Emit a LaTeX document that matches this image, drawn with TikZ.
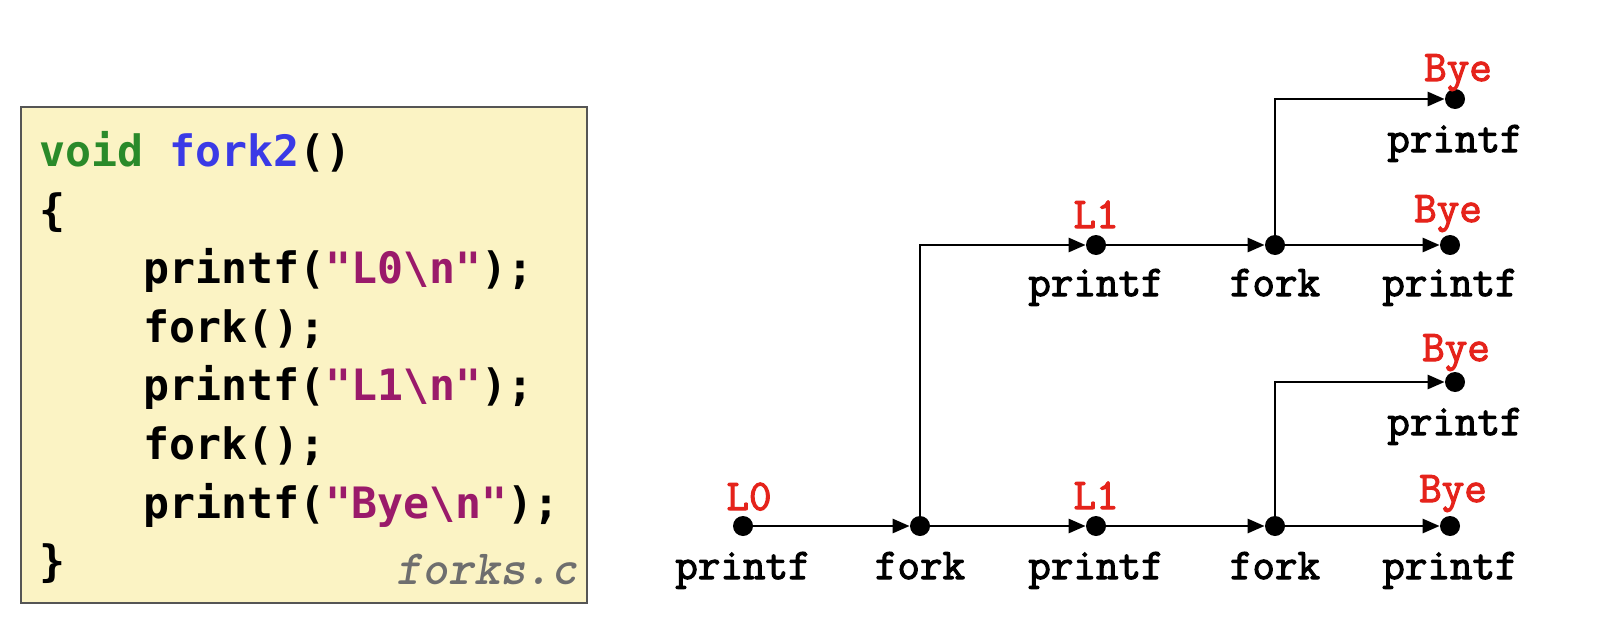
\documentclass[tikz,border=0pt]{standalone}
\usepackage{fontspec}
\newfontfamily\codefont{DejaVu Sans Mono}
\newfontfamily\labfont{Latin Modern Mono}[FakeBold=2.5]
\usetikzlibrary{arrows.meta,calc}
\definecolor{boxfill}{HTML}{FBF3C4}
\definecolor{boxdraw}{HTML}{555555}
\definecolor{kwgreen}{HTML}{2A8A2A}
\definecolor{fnblue}{HTML}{3A3AE6}
\definecolor{strpurple}{HTML}{9A1A6A}
\definecolor{fgray}{HTML}{6E6E6E}
\definecolor{lblred}{HTML}{E5231B}
\tikzset{
  code/.style={font=\codefont\bfseries\fontsize{21.6}{24}\selectfont, anchor=base west, inner sep=0},
  dot/.style={circle, fill=black, inner sep=0, minimum size=10pt},
  flow/.style={line width=1.4pt, -{Triangle[length=8.5pt,width=7pt]}},
  lab/.style={font=\labfont\fontsize{21.9}{24}\selectfont, anchor=base, inner sep=0},
  redlab/.style={lab, text=lblred}
}
\begin{document}
\begin{tikzpicture}[x=0.5pt,y=-0.5pt]
\useasboundingbox (0,0) rectangle (1599,642);
% code box
\node[draw=boxdraw, fill=boxfill, line width=1.2pt, minimum width=283pt, minimum height=248pt, anchor=north west, inner sep=0] (box) at (20,106) {};
\node[code] (c1) at (39,166) {\textcolor{kwgreen}{void} \textcolor{fnblue}{fork2}()};
\node[code] (c2) at (39,225) {\{};
\node[code] (c3) at (143,283) {printf(\textcolor{strpurple}{"L0\textbackslash n"});};
\node[code] (c4) at (143,342) {fork();};
\node[code] (c5) at (143,400) {printf(\textcolor{strpurple}{"L1\textbackslash n"});};
\node[code] (c6) at (143,459) {fork();};
\node[code] (c7) at (143,518) {printf(\textcolor{strpurple}{"Bye\textbackslash n"});};
\node[code] (c8) at (39,576) {\}};
\node[font=\ttfamily\bfseries\itshape\fontsize{24.6}{27}\selectfont, text=fgray, anchor=base east, inner sep=0] (fn) at (578,584) {forks.c};
% dots
\node[dot] (a) at (743,526) {};
\node[dot] (f1) at (920,526) {};
\node[dot] (b) at (1096,526) {};
\node[dot] (f2) at (1275,526) {};
\node[dot] (c) at (1450,526) {};
\node[dot] (d) at (1096,245) {};
\node[dot] (f3) at (1275,245) {};
\node[dot] (e) at (1450,245) {};
\node[dot] (g) at (1455,99) {};
\node[dot] (h) at (1455,382) {};
% arrows
\draw[flow] (a) -- (f1);
\draw[flow] (f1) -- (b);
\draw[flow] (b) -- (f2);
\draw[flow] (f2) -- (c);
\draw[flow] (f1) |- (d);
\draw[flow] (d) -- (f3);
\draw[flow] (f3) -- (e);
\draw[flow] (f3) |- (g);
\draw[flow] (f2) |- (h);
% labels below
\node[lab] (ta) at ($(a)+(0,53)$) {printf};
\node[lab] (tf1) at ($(f1)+(0,53)$) {fork};
\node[lab] (tb) at ($(b)+(0,53)$) {printf};
\node[lab] (tf2) at ($(f2)+(0,53)$) {fork};
\node[lab] (tc) at ($(c)+(0,53)$) {printf};
\node[lab] (td) at ($(d)+(0,51)$) {printf};
\node[lab] (tf3) at ($(f3)+(0,51)$) {fork};
\node[lab] (te) at ($(e)+(0,51)$) {printf};
\node[lab] (tg) at ($(g)+(0,53)$) {printf};
\node[lab] (th) at ($(h)+(0,53)$) {printf};
% red labels above
\node[redlab] (ra) at ($(a)+(6,-16)$) {L0};
\node[redlab] (rb) at ($(b)+(0,-17)$) {L1};
\node[redlab] (rc) at ($(c)+(3,-24)$) {Bye};
\node[redlab] (rd) at ($(d)+(0,-17)$) {L1};
\node[redlab] (re) at ($(e)+(-2,-23)$) {Bye};
\node[redlab] (rg) at ($(g)+(3,-18)$) {Bye};
\node[redlab] (rh) at ($(h)+(1,-21)$) {Bye};
\end{tikzpicture}
\end{document}
